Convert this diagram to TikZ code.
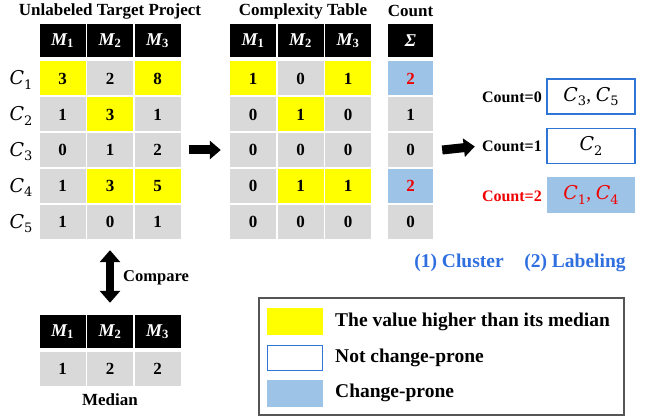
\documentclass[tikz,border=0pt]{standalone}
\usepackage{fontspec}
\setmainfont{Liberation Serif}
\newfontfamily\dvs{DejaVu Serif}
\usetikzlibrary{arrows.meta}
\definecolor{cgray}{HTML}{D9D9D9}
\definecolor{cyel}{HTML}{FFFF00}
\definecolor{cblue}{HTML}{9DC3E6}
\definecolor{cbord}{HTML}{2E75D6}
\definecolor{ctxt}{HTML}{2F6FE0}
\definecolor{cred}{HTML}{F00000}
\definecolor{cframe}{HTML}{555555}
\newcommand\Mh[1]{M\textsubscript{\upshape #1}}
\newcommand\Cs[1]{{\dvs\itshape C}\raisebox{-4.5pt}{\dvs\fontsize{13}{13}\selectfont #1}}
\tikzset{
  cell/.style={fill=cgray, minimum width=46pt, minimum height=34pt, inner sep=0pt,
    font=\fontsize{17}{17}\selectfont\bfseries},
  hicell/.style={cell, fill=cyel},
  cntcell/.style={cell, minimum width=45pt},
  redcell/.style={cntcell, fill=cblue, text=cred},
  headcell/.style={fill=black, text=white, minimum width=46pt, minimum height=33pt, inner sep=0pt,
    font=\fontsize{18}{18}\selectfont\bfseries\itshape},
  title/.style={inner sep=0pt, font=\fontsize{17}{17}\selectfont\bfseries},
  rowlab/.style={inner sep=0pt, font=\fontsize{19}{19}\selectfont},
  cntlab/.style={inner sep=0pt, anchor=east, font=\fontsize{16}{16}\selectfont\bfseries},
  grpbox/.style={draw=cbord, line width=1.3pt, minimum width=88pt, minimum height=35pt, inner sep=0pt,
    font=\fontsize{19}{19}\selectfont},
  steplab/.style={inner sep=0pt, text=ctxt, font=\fontsize{19.5}{19.5}\selectfont\bfseries},
  legtext/.style={inner sep=0pt, anchor=west, font=\fontsize{19.5}{19.5}\selectfont\bfseries},
  swatch/.style={minimum width=56pt, minimum height=27pt, inner sep=0pt},
  bigarrow/.style={-{Triangle[width=18pt,length=11pt]}, line width=9pt},
  dblarrow/.style={{Triangle[width=20pt,length=12pt]}-{Triangle[width=20pt,length=12pt]}, line width=8pt}
}
\begin{document}
\begin{tikzpicture}[x=1pt,y=-1pt]
\useasboundingbox (0,0) rectangle (646,417);

% titles
\node[title] (t1) at (110,11) {Unlabeled Target Project};
\node[title] (t2) at (303,11) {Complexity Table};
\node[title] (t3) at (410.5,11) {Count};

% left table header
\node[headcell] (ah1) at (62.5,40.5) {\Mh{1}};
\node[headcell] (ah2) at (110,40.5) {\Mh{2}};
\node[headcell] (ah3) at (157.5,40.5) {\Mh{3}};

% row labels
\node[rowlab] (r1) at (21,80) {\Cs{1}};
\node[rowlab] (r2) at (21,116) {\Cs{2}};
\node[rowlab] (r3) at (21,151.5) {\Cs{3}};
\node[rowlab] (r4) at (21,187.5) {\Cs{4}};
\node[rowlab] (r5) at (21,223.5) {\Cs{5}};

% left table
\node[hicell] (a11) at (62.5,78.5) {3};
\node[cell]   (a12) at (110,78.5) {2};
\node[hicell] (a13) at (157.5,78.5) {8};
\node[cell]   (a21) at (62.5,114.5) {1};
\node[hicell] (a22) at (110,114.5) {3};
\node[cell]   (a23) at (157.5,114.5) {1};
\node[cell]   (a31) at (62.5,150) {0};
\node[cell]   (a32) at (110,150) {1};
\node[cell]   (a33) at (157.5,150) {2};
\node[cell]   (a41) at (62.5,186) {1};
\node[hicell] (a42) at (110,186) {3};
\node[hicell] (a43) at (157.5,186) {5};
\node[cell]   (a51) at (62.5,222) {1};
\node[cell]   (a52) at (110,222) {0};
\node[cell]   (a53) at (157.5,222) {1};

% complexity table header
\node[headcell] (bh1) at (253,40.5) {\Mh{1}};
\node[headcell] (bh2) at (300.5,40.5) {\Mh{2}};
\node[headcell] (bh3) at (348,40.5) {\Mh{3}};
\node[headcell, minimum width=45pt] (ch) at (410.5,40.5) {Σ};

% complexity table
\node[hicell] (b11) at (253,78.5) {1};
\node[cell]   (b12) at (300.5,78.5) {0};
\node[hicell] (b13) at (348,78.5) {1};
\node[redcell] (c1) at (410.5,78.5) {2};
\node[cell]   (b21) at (253,114.5) {0};
\node[hicell] (b22) at (300.5,114.5) {1};
\node[cell]   (b23) at (348,114.5) {0};
\node[cntcell] (c2) at (410.5,114.5) {1};
\node[cell]   (b31) at (253,150) {0};
\node[cell]   (b32) at (300.5,150) {0};
\node[cell]   (b33) at (348,150) {0};
\node[cntcell] (c3) at (410.5,150) {0};
\node[cell]   (b41) at (253,186) {0};
\node[hicell] (b42) at (300.5,186) {1};
\node[hicell] (b43) at (348,186) {1};
\node[redcell] (c4) at (410.5,186) {2};
\node[cell]   (b51) at (253,222) {0};
\node[cell]   (b52) at (300.5,222) {0};
\node[cell]   (b53) at (348,222) {0};
\node[cntcell] (c5) at (410.5,222) {0};

% median table
\node[headcell] (mh1) at (62.5,331.5) {\Mh{1}};
\node[headcell] (mh2) at (110,331.5) {\Mh{2}};
\node[headcell] (mh3) at (157.5,331.5) {\Mh{3}};
\node[cell] (m1) at (62.5,369) {1};
\node[cell] (m2) at (110,369) {2};
\node[cell] (m3) at (157.5,369) {2};
\node[title] (mlab) at (110,400) {Median};

% compare arrow
\draw[dblarrow] ([yshift=-11pt]a52.south) -- ([yshift=12pt]mh2.north);
\node[title, anchor=west, font=\fontsize{16.5}{16.5}\selectfont\bfseries] (cmp) at (123,278) {Compare};

% groups
\node[cntlab] (k0) at (542,97) {Count=0};
\node[cntlab] (k1) at (542,146.5) {Count=1};
\node[cntlab, text=cred] (k2) at (542,196) {Count=2};
\node[grpbox] (g0) at (591,96.5) {\Cs{3}, \Cs{5}};
\node[grpbox] (g1) at (591,146) {\Cs{2}};
\node[grpbox, draw=none, fill=cblue, text=cred, minimum width=88pt, minimum height=36pt] (g2) at (591,195) {\Cs{1}, \Cs{4}};

% flow arrows
\draw[bigarrow] ([xshift=8pt]a33.east) -- ([xshift=-9pt]b31.west);
\draw[bigarrow] ([xshift=9pt]c3.east) -- ([xshift=-7pt]k1.west);

% step labels
\node[steplab] (s1) at (459,263) {(1) Cluster};
\node[steplab] (s2) at (575,263) {(2) Labeling};

% legend
\draw[cframe, line width=1.5pt] (259,298) rectangle (624,415);
\node[swatch, fill=cyel] (l1) at (295,321.5) {};
\node[swatch, draw=cbord, line width=1.3pt, minimum width=55pt, minimum height=25pt] (l2) at (295,358) {};
\node[swatch, fill=cblue] (l3) at (295,393.5) {};
\node[legtext] (lt1) at (335,322) {The value higher than its median};
\node[legtext] (lt2) at (335,358) {Not change-prone};
\node[legtext] (lt3) at (335,393) {Change-prone};
\end{tikzpicture}
\end{document}
